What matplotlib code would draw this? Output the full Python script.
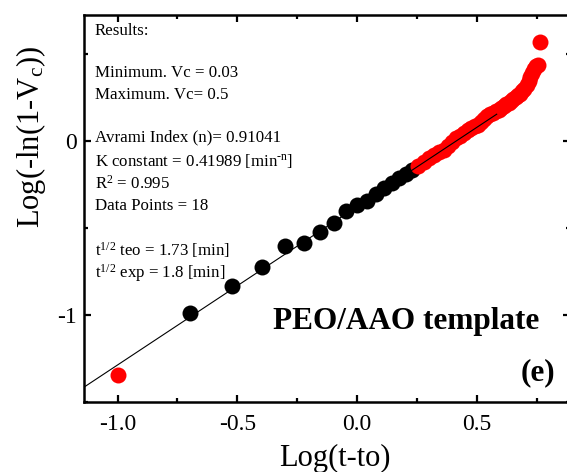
import matplotlib
matplotlib.use("Agg")
import matplotlib.pyplot as plt
import numpy as np
from matplotlib.ticker import MultipleLocator, FuncFormatter

plt.rcParams['font.family'] = ['Liberation Serif', 'DejaVu Serif']
plt.rcParams['mathtext.fontset'] = 'custom'
plt.rcParams['mathtext.rm'] = 'Liberation Serif'
plt.rcParams['mathtext.it'] = 'Liberation Serif:italic'
plt.rcParams['mathtext.bf'] = 'Liberation Serif:bold'

# Avrami plot data: log(t - t0) vs log(-ln(1 - Vc))
fit_x = [-0.699, -0.523, -0.398, -0.301, -0.222, -0.155, -0.097, -0.046,
         0.000, 0.041, 0.079, 0.114, 0.146, 0.176, 0.204, 0.230]
fit_y = [-0.990, -0.834, -0.724, -0.604, -0.585, -0.524, -0.470, -0.405,
         -0.368, -0.345, -0.305, -0.270, -0.240, -0.215, -0.190, -0.165]

out_x = [-1.000,
         0.255, 0.279, 0.301, 0.322, 0.342, 0.362, 0.380, 0.398, 0.415, 0.431,
         0.447, 0.462, 0.477, 0.491, 0.505, 0.519, 0.531, 0.544, 0.556, 0.568,
         0.580, 0.591, 0.602, 0.613, 0.623, 0.633, 0.643, 0.653, 0.663, 0.672,
         0.681, 0.690, 0.699, 0.708, 0.716, 0.724, 0.732, 0.740, 0.748, 0.756,
         0.763]
out_y = [-1.343,
         -0.145, -0.120, -0.098, -0.082, -0.066, -0.050, -0.030, -0.005, 0.015, 0.030,
         0.048, 0.064, 0.075, 0.085, 0.094, 0.108, 0.125, 0.143, 0.155, 0.163,
         0.170, 0.180, 0.192, 0.202, 0.210, 0.218, 0.228, 0.240, 0.252, 0.262,
         0.272, 0.285, 0.300, 0.322, 0.345, 0.368, 0.392, 0.415, 0.430, 0.438,
         0.567]

# Avrami fit results
n_index = 0.91041
k_const = 0.41989
line_span = [-1.14, 0.583]

W, H = 567, 472
fig = plt.figure(figsize=(W / 100, H / 100), dpi=100)
ax = fig.add_axes([84 / W, 1 - 402 / H, (570 - 84) / W, (402 - 15) / H])

ax.plot(fit_x, fit_y, 'o', color='black', markersize=11.5, markeredgewidth=0, zorder=2)
ax.plot(out_x, out_y, 'o', color='#ff0000', markersize=11.5, markeredgewidth=0, zorder=3)

lx = np.array(line_span)
ax.plot(lx, np.log10(k_const) + n_index * lx, color='black', linewidth=0.8, zorder=4)

ax.set_xlim(-1.14, 0.889)
ax.set_ylim(-1.5, 0.724)

ax.xaxis.set_major_locator(MultipleLocator(0.5))
ax.xaxis.set_minor_locator(MultipleLocator(0.25))
ax.yaxis.set_major_locator(MultipleLocator(1.0))
ax.yaxis.set_minor_locator(MultipleLocator(0.5))
ax.xaxis.set_major_formatter(FuncFormatter(lambda v, p: f"{v:.1f}"))
ax.yaxis.set_major_formatter(FuncFormatter(lambda v, p: f"{v:.0f}"))

for s in ax.spines.values():
    s.set_linewidth(1.8)
ax.tick_params(which='both', direction='in', top=True, right=True, width=1.6)
ax.tick_params(which='major', length=5)
ax.tick_params(which='minor', length=3)
ax.tick_params(axis='x', labelsize=17, pad=9)
ax.tick_params(axis='y', labelsize=17, pad=5)

ax.set_xlabel('Log(t-to)', fontsize=22)
ax.set_ylabel(r'Log(-ln(1-V$_{\rm c}$))', fontsize=22)
ax.xaxis.label.set_va('center')
ax.yaxis.label.set_va('center')
ax.xaxis.set_label_coords((335 - 84) / 486, (402 - 458) / 387)
ax.yaxis.set_label_coords((31 - 84) / 486, (402 - 137) / 387)

def ftext(xp, yp, s, **kw):
    fig.text(xp / W, 1 - yp / H, s, **kw)

lines = [
    (31, 'Results:'),
    (73, 'Minimum. Vc = 0.03'),
    (95, 'Maximum. Vc= 0.5'),
    (137, 'Avrami Index (n)= 0.91041'),
    (161, r'K constant = 0.41989 [min$^{\text{-n}}$]'),
    (184, r'R$^{\rm 2}$ = 0.995'),
    (206, 'Data Points = 18'),
    (250, r't$^{\rm 1/2}$ teo = 1.73 [min]'),
    (273, r't$^{\rm 1/2}$ exp = 1.8 [min]'),
]
for yp, s in lines:
    ftext(95, yp, s, fontsize=12.2, ha='left', va='center')

ftext(273, 322, 'PEO/AAO template', fontsize=22.5, fontweight='bold', ha='left', va='center')
ftext(555, 373, '(e)', fontsize=22.5, fontweight='bold', ha='right', va='center')

fig.savefig('out.png', dpi=100)
